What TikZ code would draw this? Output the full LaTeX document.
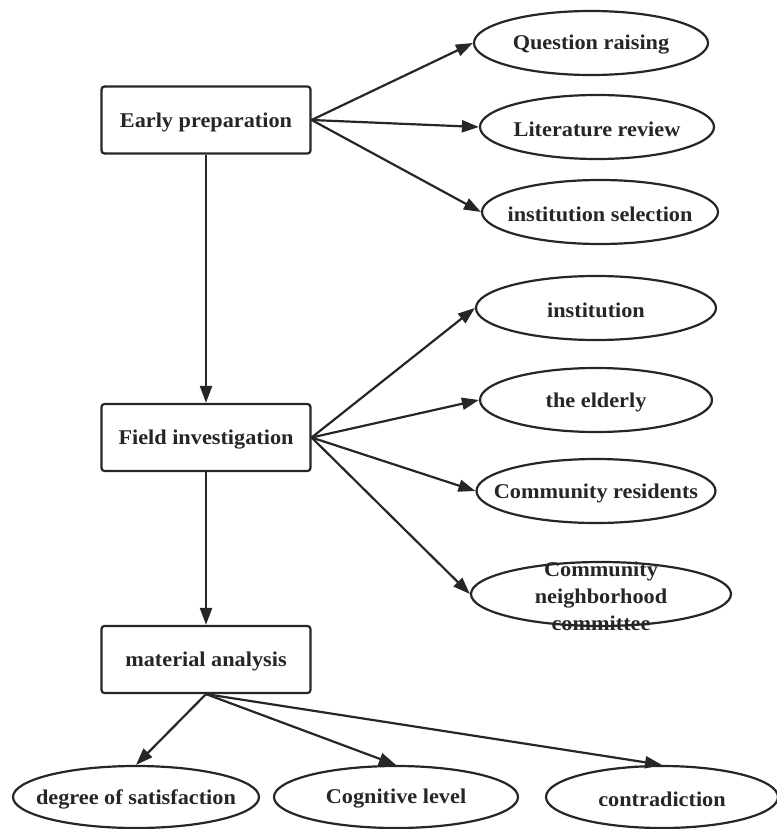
\documentclass[tikz,border=0pt]{standalone}
\usepackage{fontspec}
\setmainfont{Liberation Serif}[FakeStretch=1.06]
\usetikzlibrary{shapes.geometric,arrows.meta}
\definecolor{ink}{HTML}{262626}
\tikzset{
  lbl/.style={font=\fontsize{21}{27}\selectfont\bfseries, text=ink, align=center, yshift=-2pt},
  box/.style={draw=ink, line width=2.2pt, rounded corners=3pt, fill=white,
    minimum width=209pt, minimum height=67pt, inner sep=0pt},
  oval/.style={draw=ink, line width=2.2pt, ellipse, fill=white,
    minimum height=64pt, inner sep=0pt},
  conn/.style={draw=ink, line width=2.2pt, -{Triangle[length=17pt,width=12pt]}}
}
\begin{document}
\begin{tikzpicture}[x=1pt,y=-1pt]
\useasboundingbox (0,0) rectangle (776,829);
% boxes
\node[box,label={[lbl]center:Early preparation}] (ep) at (206,120) {};
\node[box,label={[lbl]center:Field investigation}] (fi) at (206,437.5) {};
\node[box,label={[lbl]center:material analysis}] (ma) at (206,659.5) {};
% first group
\node[oval,minimum width=234pt,label={[lbl]center:Question raising}] (qr) at (591,43) {};
\node[oval,minimum width=234pt,label={[lbl]center:Literature review}] (lr) at (597,127) {};
\node[oval,minimum width=236pt,label={[lbl]center:institution selection}] (is) at (600,212) {};
% second group
\node[oval,minimum width=240pt,label={[lbl]center:institution}] (in) at (596,308) {};
\node[oval,minimum width=232pt,label={[lbl]center:the elderly}] (el) at (596,400) {};
\node[oval,minimum width=239pt,label={[lbl]center:Community residents}] (cr) at (596,491) {};
\node[oval,minimum width=260pt,label={[lbl]center:Community\\neighborhood\\committee}] (cnc) at (601,594) {};
% bottom group
\node[oval,minimum width=246pt,minimum height=62pt,label={[lbl]center:degree of satisfaction}] (ds) at (136,797) {};
\node[oval,minimum width=244pt,minimum height=62pt,label={[lbl]center:Cognitive level}] (cl) at (396,797) {};
\node[oval,minimum width=232pt,minimum height=62pt,label={[lbl]center:contradiction}] (co) at (662,797) {};
% connectors
\draw[conn] (ep.south) -- (fi.north);
\draw[conn] (fi.south) -- (ma.north);
\draw[conn] (ep.east) -- (qr.west);
\draw[conn] (ep.east) -- (lr.west);
\draw[conn] (ep.east) -- (is.west);
\draw[conn] (fi.east) -- (in.west);
\draw[conn] (fi.east) -- (el.west);
\draw[conn] (fi.east) -- (cr.west);
\draw[conn] (fi.east) -- (cnc.west);
\draw[conn] (ma.south) -- (ds.north);
\draw[conn] (ma.south) -- (cl.north);
\draw[conn] (ma.south) -- (co.north);
\end{tikzpicture}
\end{document}
